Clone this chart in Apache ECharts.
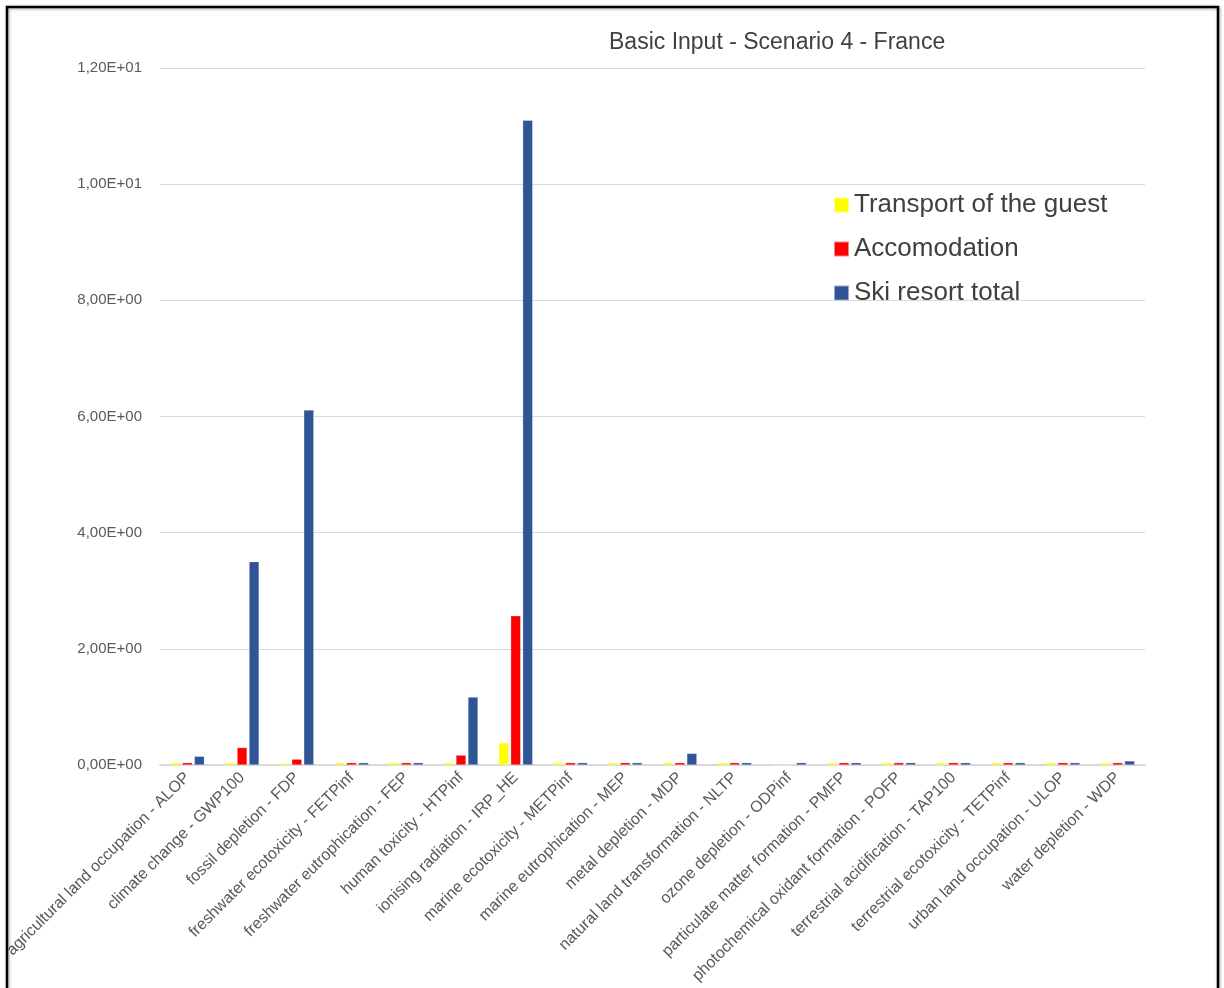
<!DOCTYPE html>
<html><head><meta charset="utf-8">
<script src="https://cdn.jsdelivr.net/npm/echarts@6/dist/echarts.min.js"></script>
<style>html,body{margin:0;padding:0;background:#fff;}#c{width:1224px;height:988px;}</style>
</head><body><div id="c"></div>
<script>
const categories = [
  "agricultural land occupation - ALOP",
  "climate change - GWP100",
  "fossil depletion - FDP",
  "freshwater ecotoxicity - FETPinf",
  "freshwater eutrophication - FEP",
  "human toxicity - HTPinf",
  "ionising radiation - IRP_HE",
  "marine ecotoxicity - METPinf",
  "marine eutrophication - MEP",
  "metal depletion - MDP",
  "natural land transformation - NLTP",
  "ozone depletion - ODPinf",
  "particulate matter formation - PMFP",
  "photochemical oxidant formation - POFP",
  "terrestrial acidification - TAP100",
  "terrestrial ecotoxicity - TETPinf",
  "urban land occupation - ULOP",
  "water depletion - WDP"
];
const seriesNames = ["Transport of the guest", "Accomodation", "Ski resort total"];
const transport = [0.04, 0.04, 0.03, 0.04, 0.04, 0.04, 0.38, 0.04, 0.04, 0.04, 0.04, 0.0, 0.04, 0.04, 0.04, 0.04, 0.04, 0.04];
const accomodation = [0.04, 0.30, 0.10, 0.04, 0.04, 0.17, 2.57, 0.04, 0.04, 0.04, 0.04, 0.0, 0.04, 0.04, 0.04, 0.04, 0.04, 0.04];
const skiTotal = [0.15, 3.50, 6.11, 0.04, 0.04, 1.17, 11.1, 0.04, 0.04, 0.20, 0.04, 0.04, 0.04, 0.04, 0.04, 0.04, 0.04, 0.07];
const yTicks = {min: 0, max: 12, interval: 2};

function sci(v) {
  if (v === 0) return "0,00E+00";
  const e = Math.floor(Math.log10(Math.abs(v)) + 1e-9);
  const m = v / Math.pow(10, e);
  const sign = e < 0 ? "-" : "+";
  const ae = Math.abs(e);
  return m.toFixed(2).replace(".", ",") + "E" + sign + (ae < 10 ? "0" + ae : ae);
}

const chart = echarts.init(document.getElementById('c'));
const font = "Liberation Sans";
const colors = ["#FFFF00", "#FF0000", "#2F5597"];
const datas = [transport, accomodation, skiTotal];
chart.setOption({
  animation: false,
  backgroundColor: "#fff",
  textStyle: {fontFamily: font},
  graphic: [{
    type: 'rect', shape: {x: 7, y: 7, width: 1211, height: 990},
    style: {fill: 'none', stroke: '#000', lineWidth: 2.5, shadowColor: 'rgba(0,0,0,0.35)', shadowBlur: 3, shadowOffsetX: 1, shadowOffsetY: 1}
  }],
  title: {
    text: "Basic Input - Scenario 4 - France",
    left: 604, top: 26,
    textStyle: {fontFamily: font, fontSize: 23, fontWeight: 'normal', color: '#404040'}
  },
  legend: {
    orient: 'vertical', left: 828, top: 187,
    icon: 'rect', itemWidth: 15, itemHeight: 15, itemGap: 18,
    textStyle: {fontFamily: font, fontSize: 26, color: '#404040'},
    data: seriesNames
  },
  grid: {left: 160, right: 79, top: 68, bottom: 223, containLabel: false},
  xAxis: {
    type: 'category', data: categories,
    axisLine: {lineStyle: {color: '#d9d9d9', width: 2}},
    axisTick: {show: false},
    axisLabel: {interval: 0, rotate: 45, fontFamily: font, fontSize: 16, color: '#595959', margin: 10}
  },
  yAxis: {
    type: 'value', min: yTicks.min, max: yTicks.max, interval: yTicks.interval,
    axisLine: {show: false}, axisTick: {show: false},
    splitLine: {lineStyle: {color: '#d9d9d9', width: 1}},
    axisLabel: {formatter: sci, fontFamily: font, fontSize: 15, color: '#595959', margin: 18}
  },
  series: seriesNames.map((n, i) => ({
    name: n, type: 'bar', data: datas[i],
    barWidth: 10, barGap: '20%',
    itemStyle: {color: colors[i], borderColor: 'rgba(255,255,255,0.5)', borderWidth: 0.5}
  }))
});
</script></body></html>
